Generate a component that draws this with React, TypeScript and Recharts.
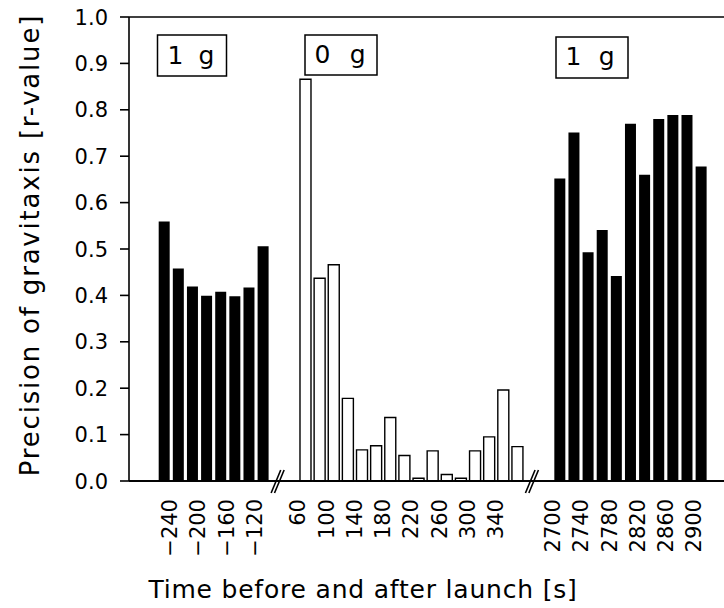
import React from "react";
import {
  BarChart,
  Bar,
  XAxis,
  YAxis,
  Cell,
  ReferenceLine,
  ReferenceDot,
  Customized,
} from "recharts";

// ---- data ----
const preTimes = [-240, -220, -200, -180, -160, -140, -120, -100];
const preValues = [0.559, 0.458, 0.419, 0.399, 0.408, 0.398, 0.417, 0.506];

const flightTimes = [60, 80, 100, 120, 140, 160, 180, 200, 220, 240, 260, 280, 300, 320, 340, 360];
const flightValues = [0.866, 0.437, 0.466, 0.178, 0.067, 0.076, 0.137, 0.055, 0.006, 0.065, 0.014, 0.006, 0.065, 0.095, 0.196, 0.074];

const postTimes = [2700, 2720, 2740, 2760, 2780, 2800, 2820, 2840, 2860, 2880, 2900];
const postValues = [0.652, 0.751, 0.493, 0.541, 0.442, 0.77, 0.66, 0.78, 0.789, 0.789, 0.678];

const preTickLabels = [-240, -200, -160, -120];
const flightTickLabels = [60, 100, 140, 180, 220, 260, 300, 340];
const postTickLabels = [2700, 2740, 2780, 2820, 2860, 2900];

const yTicks = [0, 0.1, 0.2, 0.3, 0.4, 0.5, 0.6, 0.7, 0.8, 0.9, 1.0];

// ---- layout helpers (slot positions on a continuous axis with gaps) ----
const PRE_START = 0;
const FLIGHT_START = 10;
const POST_START = 28;
const X_DOMAIN: [number, number] = [-2.46, 39.65];

const rows = [
  ...preTimes.map((t, i) => ({ slot: PRE_START + i, time: t, value: preValues[i], g: 1 })),
  ...flightTimes.map((t, i) => ({ slot: FLIGHT_START + i, time: t, value: flightValues[i], g: 0 })),
  ...postTimes.map((t, i) => ({ slot: POST_START + i, time: t, value: postValues[i], g: 1 })),
];

const tickEntries = [
  ...preTickLabels.map((l) => ({ pos: PRE_START + preTimes.indexOf(l) + 0.42, label: l })),
  ...flightTickLabels.map((l) => ({ pos: FLIGHT_START + flightTimes.indexOf(l) - 0.52, label: l })),
  ...postTickLabels.map((l) => ({ pos: POST_START + postTimes.indexOf(l) - 0.48, label: l })),
];

const FONT = "DejaVu Sans";

const fmtLabel = (v: number) => {
  const e = tickEntries.find((t) => Math.abs(t.pos - v) < 1e-6);
  if (!e) return "";
  return String(e.label).replace("-", "\u2212");
};

const XTick = (props: any) => {
  const { x, y, payload } = props;
  return (
    <text
      x={x}
      y={y}
      transform={`rotate(-90, ${x}, ${y})`}
      textAnchor="end"
      dy="0.36em"
      fontFamily={FONT}
      fontSize={21}
      fill="#000"
    >
      {fmtLabel(payload.value)}
    </text>
  );
};

const YTick = (props: any) => {
  const { x, y, payload } = props;
  return (
    <text x={x} y={y} textAnchor="end" dy="0.36em" fontFamily={FONT} fontSize={21} fill="#000">
      {Number(payload.value).toFixed(1)}
    </text>
  );
};

const BreakMark = (props: any) => {
  const { cx, cy } = props;
  if (cx == null || cy == null) return null;
  const d = 3.4;
  return (
    <g stroke="#000" strokeWidth={1.6} fill="none">
      <line x1={cx - 8.5} y1={cy + 12} x2={cx + 4.5 - d} y2={cy - 11} />
      <line x1={cx - 8.5 + d} y1={cy + 12} x2={cx + 4.5} y2={cy - 11} />
    </g>
  );
};

const GBox = ({ x, y, w, h, a, b, ax, bx, base }: any) => (
  <g>
    <rect x={x} y={y} width={w} height={h} fill="#fff" stroke="#000" strokeWidth={1.5} />
    <text x={ax} y={base} textAnchor="middle" fontFamily={FONT} fontSize={25} fill="#000">{a}</text>
    <text x={bx} y={base} textAnchor="middle" fontFamily={FONT} fontSize={25} fill="#000">{b}</text>
  </g>
);

const Annotations = () => (
  <g>
    <GBox x={157.5} y={35} w={69} h={41} a="1" b="g" ax={175.5} bx={206.5} base={64} />
    <GBox x={305} y={35} w={72} h={40} a="0" b="g" ax={322.5} bx={357.8} base={63} />
    <GBox x={556} y={37} w={72} h={41} a="1" b="g" ax={573.5} bx={606.7} base={65} />
    <text
      x={363}
      y={598}
      textAnchor="middle"
      fontFamily={FONT}
      fontSize={25}
      letterSpacing={0.8}
      fill="#000"
    >
      Time before and after launch [s]
    </text>
    <text
      x={39}
      y={245}
      transform="rotate(-90, 39, 245)"
      textAnchor="middle"
      fontFamily={FONT}
      fontSize={26}
      letterSpacing={1.8}
      fill="#000"
    >
      Precision of gravitaxis [r-value]
    </text>
  </g>
);

export default function App() {
  return (
    <div style={{ position: "absolute", left: 0, top: 0, width: 724, height: 608, background: "#fff" }}>
      <BarChart
        width={724}
        height={608}
        data={rows}
        margin={{ top: 17, right: 0, left: 0, bottom: 0 }}
      >
        <XAxis
          type="number"
          dataKey="slot"
          domain={X_DOMAIN}
          allowDataOverflow
          ticks={tickEntries.map((t) => t.pos)}
          interval={0}
          axisLine={false}
          tickLine={false}
          tickSize={0}
          tickMargin={18}
          height={127}
          tick={<XTick />}
        />
        <YAxis
          type="number"
          domain={[0, 1]}
          ticks={yTicks}
          interval={0}
          width={129}
          axisLine={{ stroke: "#000", strokeWidth: 1.6 }}
          tickLine={{ stroke: "#000", strokeWidth: 1.6 }}
          tickSize={9}
          tickMargin={12}
          tick={<YTick />}
        />
        <ReferenceLine
          y={1}
          stroke="#000"
          strokeWidth={1.6}
          segment={[{ x: X_DOMAIN[0], y: 1 }, { x: X_DOMAIN[1], y: 1 }]}
        />
        <ReferenceLine
          y={0}
          stroke="#000"
          strokeWidth={1.6}
          segment={[{ x: X_DOMAIN[0], y: 0 }, { x: 7.8, y: 0 }]}
        />
        <ReferenceLine
          y={0}
          stroke="#000"
          strokeWidth={1.6}
          segment={[{ x: 8.6, y: 0 }, { x: 25.8, y: 0 }]}
        />
        <ReferenceLine
          y={0}
          stroke="#000"
          strokeWidth={1.6}
          segment={[{ x: 26.6, y: 0 }, { x: X_DOMAIN[1], y: 0 }]}
        />
        <Bar dataKey="value" barSize={11} isAnimationActive={false}>
          {rows.map((r, i) => (
            <Cell
              key={i}
              fill={r.g === 1 ? "#000" : "#fff"}
              stroke={r.g === 1 ? "none" : "#000"}
              strokeWidth={r.g === 1 ? 0 : 1.4}
            />
          ))}
        </Bar>
        <ReferenceDot x={8.2} y={0} r={0} ifOverflow="visible" shape={<BreakMark />} />
        <ReferenceDot x={26.2} y={0} r={0} ifOverflow="visible" shape={<BreakMark />} />
        <Customized component={Annotations} />
      </BarChart>
    </div>
  );
}
